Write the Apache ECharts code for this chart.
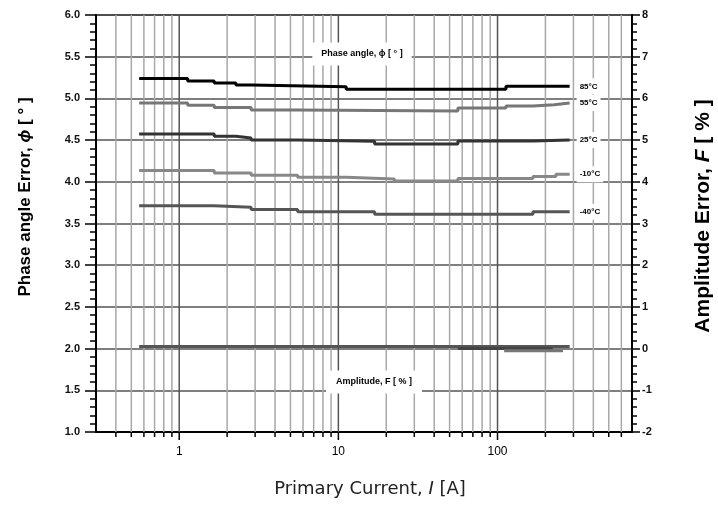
<!DOCTYPE html>
<html>
<head>
<meta charset="utf-8">
<script src="https://cdn.jsdelivr.net/npm/echarts@6/dist/echarts.min.js"></script>
<style>
html, body { margin: 0; padding: 0; background: #fff; }
#chart { width: 718px; height: 508px; }
</style>
</head>
<body>
<div id="chart"></div>
<script>
// temperature curves, phase error in degrees, points are [current A, phase]
const tempNames = ['85°C', '55°C', '25°C', '-10°C', '-40°C']
const phase85 = [[0.56, 5.24], [1.13, 5.21], [1.66, 5.185], [2.27, 5.16], [2.85, 5.14], [11.2, 5.11], [113, 5.145], [284, 5.145]]
const phase55 = [[0.56, 4.945], [1.13, 4.917], [1.66, 4.89], [2.83, 4.86], [5.55, 4.848], [56.4, 4.885], [113, 4.91], [167, 4.925], [227, 4.945], [284, 4.945]]
const phase25 = [[0.56, 4.573], [1.66, 4.545], [2.27, 4.525], [2.83, 4.5], [5.55, 4.485], [16.9, 4.452], [56.4, 4.49], [167, 4.5], [284, 4.5]]
const phaseM10 = [[0.56, 4.134], [1.66, 4.105], [2.83, 4.078], [5.55, 4.054], [11.2, 4.034], [22.5, 4.01], [56.4, 4.04], [167, 4.065], [233, 4.09], [284, 4.09]]
const phaseM40 = [[0.56, 3.714], [1.66, 3.694], [2.83, 3.667], [5.55, 3.64], [16.9, 3.61], [167, 3.64], [284, 3.64]]

// amplitude error in %, right axis
const ampA = [[0.56, 0.05], [284, 0.05]]
const ampB = [[56.4, 0.0], [222, 0.0]]
const ampC = [[110, -0.05], [258, -0.05]]

// log grid positions of the current axis
const xMajor = [1, 10, 100]
const xMinor = [0.4, 0.5, 0.6, 0.7, 0.8, 0.9, 2, 3, 4, 5, 6, 7, 8, 9,
  20, 30, 40, 50, 60, 70, 80, 90, 200, 300, 400, 500, 600]

const phaseMin = 1
const phaseMax = 6
const font = '"Liberation Sans", Arial, sans-serif'

const chart = echarts.init(document.getElementById('chart'))

function phaseSeries(name, data, color) {
  return {
    name: name,
    type: 'line',
    step: 'end',
    data: data,
    showSymbol: false,
    symbol: 'none',
    z: 4,
    lineStyle: { color: color, width: 3 },
    endLabel: {
      show: true,
      formatter: '{a}',
      distance: 7,
      color: '#000',
      fontFamily: font,
      fontWeight: 'bold',
      fontSize: 8,
      backgroundColor: '#fff',
      padding: [4, 3]
    }
  }
}

function ampSeries(data, color) {
  return {
    type: 'line',
    step: 'end',
    yAxisIndex: 1,
    data: data,
    showSymbol: false,
    symbol: 'none',
    z: 3,
    lineStyle: { color: color, width: 3 }
  }
}

function renderGrid(params, api) {
  const v = api.value(0)
  const major = xMajor.indexOf(v) >= 0
  const top = api.coord([v, phaseMax])
  const bottom = api.coord([v, phaseMin])
  return {
    type: 'group',
    children: [{
      type: 'line',
      shape: { x1: top[0], y1: top[1], x2: bottom[0], y2: bottom[1] },
      style: { stroke: major ? '#555' : '#a8a8a8', lineWidth: 1.5 }
    }, {
      type: 'line',
      shape: { x1: bottom[0], y1: bottom[1], x2: bottom[0], y2: bottom[1] + (major ? 8 : 5) },
      style: { stroke: '#000', lineWidth: 1.5 }
    }]
  }
}

const opt = {
  backgroundColor: '#fff',
  animation: false,
  grid: {
    left: 96,
    right: 86,
    top: 15,
    bottom: 76,
    containLabel: false,
    show: true,
    borderColor: '#000',
    borderWidth: 1.5
  },
  xAxis: {
    type: 'log',
    logBase: 10,
    min: 0.3,
    max: 700,
    name: 'Primary Current, {i|I} [A]',
    nameLocation: 'middle',
    nameGap: 48,
    nameTextStyle: {
      fontFamily: '"DejaVu Sans", sans-serif',
      fontSize: 18,
      color: '#222',
      padding: [0, 0, 0, 12],
      rich: { i: { fontStyle: 'italic', fontFamily: '"DejaVu Sans", sans-serif', fontSize: 18, color: '#222' } }
    },
    axisLine: { onZero: false, lineStyle: { color: '#000', width: 2 } },
    axisTick: { show: false },
    splitLine: { show: false },
    minorTick: { show: false },
    axisLabel: {
      margin: 14,
      fontFamily: font,
      fontSize: 12,
      color: '#000',
      showMinLabel: false,
      showMaxLabel: false,
      formatter: function (v) {
        return xMajor.indexOf(Math.round(v * 1000) / 1000) >= 0 ? String(Math.round(v)) : ''
      }
    }
  },
  yAxis: [{
    type: 'value',
    min: phaseMin,
    max: phaseMax,
    interval: 0.5,
    axisLine: { show: true, onZero: false, lineStyle: { color: '#000', width: 2 } },
    axisTick: { show: true, length: 11, lineStyle: { color: '#000', width: 1.5 } },
    minorTick: { show: true, splitNumber: 5, length: 6, lineStyle: { color: '#000', width: 1.5 } },
    splitLine: { show: true, lineStyle: { color: '#555', width: 1.5 } },
    axisLabel: {
      margin: 16,
      fontFamily: font,
      fontWeight: 'bold',
      fontSize: 11,
      color: '#111',
      formatter: function (v) { return v.toFixed(1) }
    }
  }, {
    type: 'value',
    min: -2,
    max: 8,
    interval: 1,
    position: 'right',
    axisLine: { show: true, onZero: false, lineStyle: { color: '#000', width: 2 } },
    axisTick: { show: true, length: 8, lineStyle: { color: '#000', width: 1.5 } },
    minorTick: { show: true, splitNumber: 5, length: 5, lineStyle: { color: '#000', width: 1.5 } },
    splitLine: { show: false },
    axisLabel: {
      margin: 10,
      fontFamily: font,
      fontWeight: 'bold',
      fontSize: 11,
      color: '#111'
    }
  }],
  graphic: [{
    type: 'text',
    x: 25,
    y: 197,
    rotation: Math.PI / 2,
    style: {
      text: 'Phase angle Error, {i|ϕ} [ ° ]',
      font: 'bold 17px ' + font,
      fill: '#000',
      align: 'center',
      verticalAlign: 'middle',
      rich: { i: { fontStyle: 'italic', fontWeight: 'bold', fontSize: 17, fontFamily: font } }
    }
  }, {
    type: 'text',
    x: 703,
    y: 216,
    rotation: Math.PI / 2,
    style: {
      text: 'Amplitude Error, {i|F} [ % ]',
      font: 'bold 21px ' + font,
      fill: '#000',
      align: 'center',
      verticalAlign: 'middle',
      rich: { i: { fontStyle: 'italic', fontWeight: 'bold', fontSize: 21, fontFamily: font } }
    }
  }, {
    type: 'text',
    x: 362,
    y: 54,
    z: 10,
    style: {
      text: 'Phase angle, ϕ [ ° ]',
      font: 'bold 9px ' + font,
      fill: '#000',
      align: 'center',
      verticalAlign: 'middle',
      backgroundColor: '#fff',
      padding: [7, 9]
    }
  }, {
    type: 'text',
    x: 374,
    y: 382,
    z: 10,
    style: {
      text: 'Amplitude, F [ % ]',
      font: 'bold 9px ' + font,
      fill: '#000',
      align: 'center',
      verticalAlign: 'middle',
      backgroundColor: '#fff',
      padding: [7, 10]
    }
  }],
  series: [{
    type: 'custom',
    renderItem: renderGrid,
    data: xMajor.concat(xMinor).map(function (v) { return [v] }),
    encode: { x: 0 },
    clip: false,
    silent: true,
    z: 1
  },
  phaseSeries(tempNames[0], phase85, '#000'),
  phaseSeries(tempNames[1], phase55, '#777'),
  phaseSeries(tempNames[2], phase25, '#333'),
  phaseSeries(tempNames[3], phaseM10, '#888'),
  phaseSeries(tempNames[4], phaseM40, '#555'),
  ampSeries(ampA, '#555'),
  ampSeries(ampB, '#444'),
  ampSeries(ampC, '#777')
  ]
}

chart.setOption(opt)
</script>
</body>
</html>
